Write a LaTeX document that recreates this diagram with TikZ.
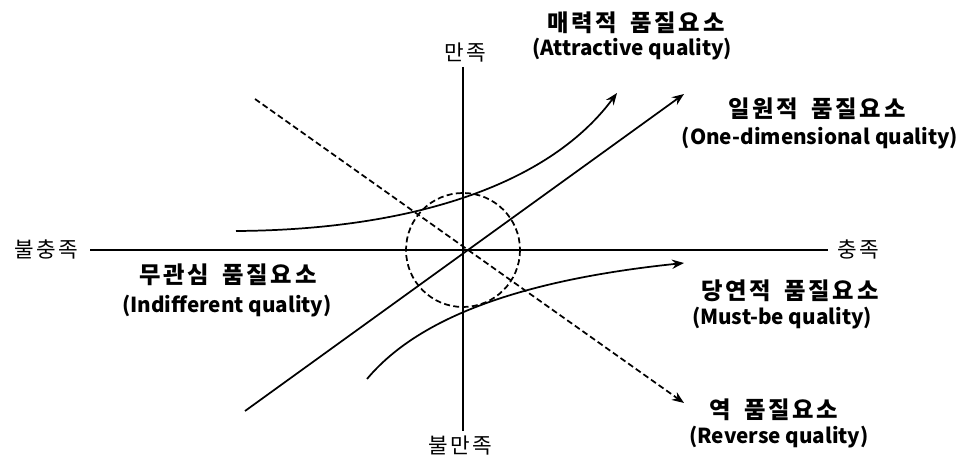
\documentclass[tikz,border=0pt]{standalone}
\usepackage{fontspec}
\usepackage{tikz}
\usetikzlibrary{arrows.meta,positioning,calc}
\newfontfamily\kr{Noto Sans CJK KR}
\newfontfamily\krs{Noto Sans CJK KR}[LetterSpace=12, WordSpace=1.6]

\begin{document}
\begin{tikzpicture}[
    x=0.75pt, y=-0.75pt,
    ax/.style={line width=1.3pt, draw=black},
    arr/.style={-{Stealth[length=9pt, width=7pt]}, line width=1.3pt, draw=black},
    dasharr/.style={arr, dash pattern=on 4.5pt off 2.5pt},
    axlbl/.style={font=\krs\fontsize{16}{18}\selectfont, inner sep=1pt},
    kname/.style={font=\krs\bfseries\fontsize{17.5}{20}\selectfont, inner sep=1pt},
    ename/.style={font=\kr\bfseries\fontsize{15.5}{18}\selectfont, inner sep=1pt}
]
    \useasboundingbox (0,0) rectangle (961,459);

    % axes
    \coordinate (o) at (463,250);
    \node [axlbl] (sat) at (465,53) {만족};
    \node [axlbl] (dis) at (460,446) {불만족};
    \node [axlbl] (nf) at (46,249) {불충족};
    \node [axlbl] (ff) at (858,249) {충족};
    \draw [ax] (90,250) -- (828,250);
    \draw [ax] (463,67) -- (463,431);
    \draw [ax, dash pattern=on 4.5pt off 2.5pt] (o) circle (57);

    % quality curves
    \coordinate (a0) at (236,231);
    \coordinate (a1) at (617,93);
    \coordinate (d0) at (245,411);
    \coordinate (d1) at (684,94);
    \coordinate (m0) at (367,379);
    \coordinate (m1) at (684,263);
    \coordinate (r0) at (255,99);
    \coordinate (r1) at (684,403);

    \draw [arr] (a0) .. controls (400,230) and (545,190) .. (a1);
    \draw [arr] (d0) -- (d1);
    \draw [arr] (m0) .. controls (418,318) and (520,280) .. (m1);
    \draw [dasharr] (r0) -- (r1);

    % labels
    \node [kname] (att) at (636,23) {매력적 품질요소};
    \node [ename] (atte) at (632,49) {(Attractive quality)};
    \node [kname] (one) at (817,109) {일원적 품질요소};
    \node [ename] (onee) at (820,138) {(One-dimensional quality)};
    \node [kname] (ind) at (228,275) {무관심 품질요소};
    \node [ename] (inde) at (227,306) {(Indifferent quality)};
    \node [kname] (must) at (790,291) {당연적 품질요소};
    \node [ename] (muste) at (782,318) {(Must-be quality)};
    \node [kname] (rev) at (774,410) {역 품질요소};
    \node [ename] (reve) at (779,437) {(Reverse quality)};
\end{tikzpicture}
\end{document}
